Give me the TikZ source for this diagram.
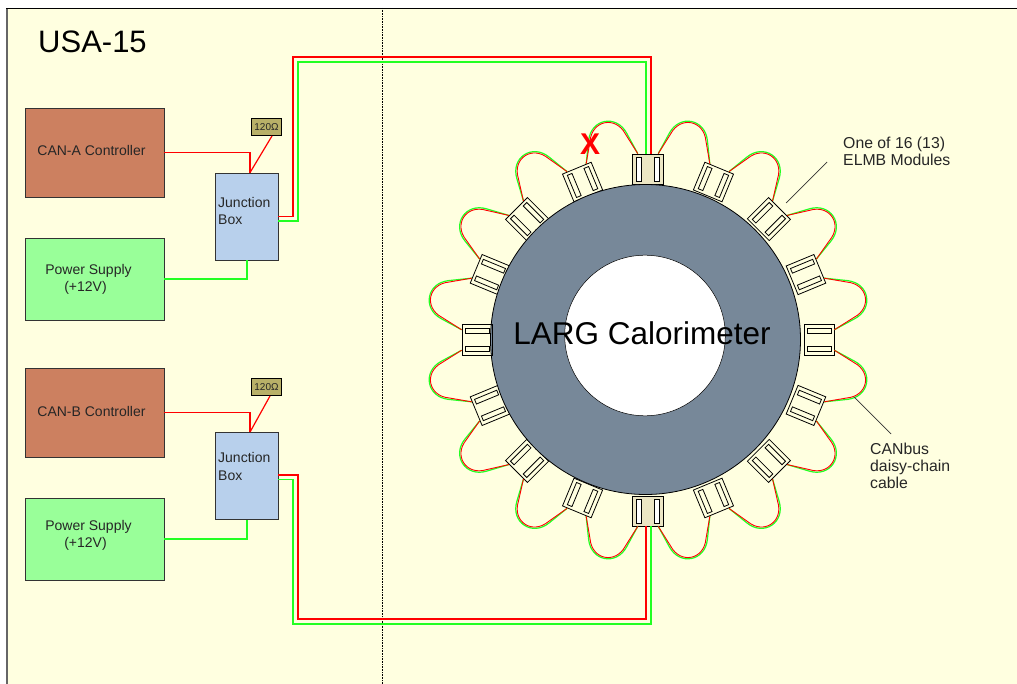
\documentclass[tikz,border=0pt]{standalone}
\usepackage{fontspec}
\setmainfont{Liberation Sans}
\usetikzlibrary{calc}
\definecolor{bgy}{HTML}{FFFFE0}
\definecolor{canc}{HTML}{CC8060}
\definecolor{psc}{HTML}{99FF99}
\definecolor{jbc}{HTML}{B8D0EC}
\definecolor{resc}{HTML}{B8B068}
\definecolor{ringc}{HTML}{778899}
\definecolor{modc}{HTML}{ECE6C4}
\definecolor{wred}{HTML}{FF0000}
\definecolor{wgreen}{HTML}{22FF22}
\tikzset{
 x=1pt,y=1pt,
 box/.style={draw=black!80,line width=.8pt,minimum width=139pt,inner sep=0pt},
 canbox/.style={box,fill=canc,minimum height=89pt},
 psbox/.style={box,fill=psc,minimum height=82pt},
 boxtext/.style={inner sep=0pt,align=center,text=black!85,font=\fontsize{14}{17}\selectfont},
 jbox/.style={draw=black!80,line width=.8pt,fill=jbc,minimum width=63pt,minimum height=87pt,inner sep=0pt},
 jtext/.style={inner sep=0pt,anchor=west,align=left,text=black!85,font=\fontsize{14}{17.5}\selectfont},
 resbox/.style={draw=black,line width=1.2pt,fill=resc,minimum width=30pt,minimum height=17pt,inner sep=0pt,text=black!85,font=\fontsize{10}{11}\selectfont},
 redw/.style={draw=wred,line width=1.2pt},
 greenw/.style={draw=wgreen,line width=1.2pt},
 redthin/.style={draw=wred,line width=.9pt},
 greenthin/.style={draw=wgreen,line width=1.2pt},
 modbox/.style={draw=black,line width=.8pt,minimum width=30pt,minimum height=31pt,inner sep=0pt,transform shape},
 slot/.style={draw=black,line width=.8pt},
 note/.style={inner sep=0pt,align=left,text=black!85,font=\fontsize{15.8}{17.2}\selectfont},
}
\begin{document}
\begin{tikzpicture}
\useasboundingbox (0,0) rectangle (1017,-684);
\fill[white] (0,0) rectangle (1017,-684);
\fill[bgy] (7,-8) rectangle (1017,-684);
\draw[black!60,line width=1.2pt] (7,-684) -- (7,-8);
\draw[black,line width=.8pt] (6.4,-8) -- (1017,-8);
\draw[black,line width=.6pt,densely dotted] (382,-8) -- (382,-684);
\node[anchor=west,inner sep=0pt,font=\fontsize{31}{33}\selectfont] (title) at (38,-42) {USA-15};
% left boxes
\node[canbox] (canA) at (94.5,-152.5) {};
\node[psbox] (psA) at (94.5,-279) {};
\node[jbox] (jA) at (246.5,-216.5) {};
\node[resbox] (rA) at (266.5,-127) {120Ω};
\node[canbox] (canB) at (94.5,-412.5) {};
\node[psbox] (psB) at (94.5,-539) {};
\node[jbox] (jB) at (246.5,-476) {};
\node[resbox] (rB) at (266.5,-387) {120Ω};
\node[boxtext] (tcanA) at (91.5,-150) {CAN-A Controller};
\node[boxtext] (tcanB) at (91.5,-411) {CAN-B Controller};
\node[boxtext] (tpsA) at (88.5,-279.5) {Power Supply\\\hspace{-6pt}(+12V)};
\node[boxtext] (tpsB) at (88.5,-535.5) {Power Supply\\\hspace{-6pt}(+12V)};
\node[jtext] (tjA) at (218,-211) {Junction\\Box};
\node[jtext] (tjB) at (218,-466.5) {Junction\\Box};
% modules
\begin{scope}[shift={(648,-340)}]
\foreach \i in {0,...,15}{
  \pgfmathsetmacro{\a}{\i*22.5}
  \begin{scope}[rotate=\a]
    \ifnum\i=4 \def\mf{modc}\def\sf{white}\else\ifnum\i=12 \def\mf{modc}\def\sf{white}\else\def\mf{bgy}\def\sf{bgy}\fi\fi
    \node[modbox,fill=\mf] (m\i) at (171,0) {};
    \draw[slot,fill=\sf] (159,6.5) rectangle (183,11.5);
    \draw[slot,fill=\sf] (159,-6.5) rectangle (183,-11.5);
  \end{scope}
  \coordinate (a\i) at ($(m\i.east)!.645!(m\i.north east)$);
  \coordinate (c\i) at ($(m\i.east)!.645!(m\i.south east)$);
}
% ring
\fill[ringc,draw=black,line width=.8pt] (-2.5,0.5) circle (155);
\fill[white,draw=black,line width=.5pt] (-3,4.5) circle (80.3);
% side modules redrawn over ring
\foreach \a in {0,180}{
  \begin{scope}[rotate=\a]
    \draw[slot] (156,-15.5) rectangle (186,15.5);
  \end{scope}
}
% daisy chain loops
\foreach \i [remember=\i as \p (initially 0)] in {1,...,15,0}{
  \pgfmathsetmacro{\ph}{(\p*22.5)+11.25-90}
  \begin{scope}[rotate=\ph]
  \draw[greenthin] (a\p) -- (19.4,207) .. controls (13,228) and (-13,228) .. (-19.4,207) -- (c\i);
  \draw[redthin] (a\p) -- (18,206.5) .. controls (12,226.5) and (-12,226.5) .. (-18,206.5) -- (c\i);
  \end{scope}
}
\end{scope}
\node[anchor=center,inner sep=0pt,font=\fontsize{31.5}{33}\selectfont] (larg) at (642,-333) {LARG Calorimeter};
% wiring A
\coordinate (rAe) at (272,-136);
\coordinate (rBe) at (270,-396);
\draw[redw] (canA.east) -| ([xshift=3.5pt]jA.north);
\draw[redw] (rAe) -- ([xshift=3.5pt]jA.north);
\draw[greenw] (psA.east) -| ([xshift=.5pt]jA.south);
\coordinate (rt) at (293,-57);
\coordinate (gt) at (298,-62);
\draw[redw] (jA.east) -| (rt) -| ([xshift=3pt]m4.east);
\draw[greenw] ([yshift=-4.5pt]jA.east) -| (gt) -| ([xshift=-2pt]m4.east);
% wiring B
\draw[redw] (canB.east) -| ([xshift=3.5pt]jB.north);
\draw[redw] (rBe) -- ([xshift=3.5pt]jB.north);
\draw[greenw] (psB.east) -| ([xshift=.5pt]jB.south);
\coordinate (rb) at (298,-619);
\coordinate (gb) at (293,-624);
\draw[redw] ([yshift=1pt]jB.east) -| (rb) -| ([xshift=-2pt]m12.east);
\draw[greenw] ([yshift=-3.5pt]jB.east) -| (gb) -| ([xshift=3pt]m12.east);
% x
\node[inner sep=0pt,text=wred,font=\bfseries\fontsize{30}{30}\selectfont] (xm) at (590,-144) {X};
% notes
\node[note,anchor=west] (n1) at (843,-151.5) {One of 16 (13)\\ELMB Modules};
\coordinate (n1a) at (827,-162);
\coordinate (n1b) at (786,-203);
\draw[black!80,line width=.7pt] (n1a) -- (n1b);
\node[note,anchor=west] (n2) at (870,-466) {CANbus\\daisy-chain\\cable};
\coordinate (n2a) at (891,-434);
\coordinate (n2b) at (854,-397);
\draw[black!80,line width=.7pt] (n2a) -- (n2b);
\end{tikzpicture}
\end{document}
